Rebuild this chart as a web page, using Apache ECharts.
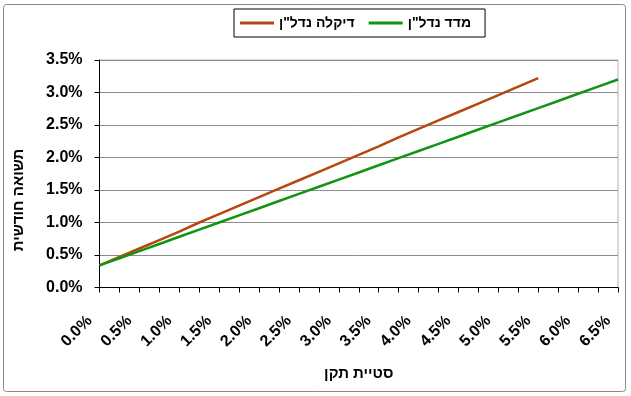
<!DOCTYPE html>
<html>
<head>
<meta charset="utf-8">
<script src="https://cdn.jsdelivr.net/npm/echarts@6/dist/echarts.min.js"></script>
<style>html,body{margin:0;padding:0;background:#fff;}#c{width:631px;height:396px;}</style>
</head>
<body>
<div id="c"></div>
<script>
// Standard deviation categories (%), step 0.25
const xCategories = [0, 0.25, 0.5, 0.75, 1.0, 1.25, 1.5, 1.75, 2.0, 2.25, 2.5, 2.75, 3.0, 3.25, 3.5, 3.75, 4.0, 4.25, 4.5, 4.75, 5.0, 5.25, 5.5, 5.75, 6.0, 6.25, 6.5];
// Monthly return (%) per series
const diklaValues = [0.34, 0.47, 0.60, 0.73, 0.86, 1.00, 1.13, 1.26, 1.39, 1.52, 1.65, 1.78, 1.91, 2.04, 2.17, 2.31, 2.44, 2.57, 2.70, 2.83, 2.96, 3.09, 3.22];
const madadValues = [0.34, 0.45, 0.56, 0.67, 0.78, 0.89, 1.00, 1.11, 1.22, 1.33, 1.44, 1.55, 1.66, 1.77, 1.88, 1.99, 2.10, 2.21, 2.32, 2.43, 2.54, 2.65, 2.76, 2.87, 2.98, 3.09, 3.20];
const seriesNames = ['דיקלה נדל"ן', 'מדד נדל"ן'];
const yTitle = 'תשואה חודשית';
const xTitle = 'סטיית תקן';

const FONT = 'Liberation Sans, Arial, sans-serif';
const chart = echarts.init(document.getElementById('c'), null, {renderer: 'canvas'});
chart.setOption({
  animation: false,
  backgroundColor: '#fff',
  textStyle: {fontFamily: FONT},
  graphic: [
    {type: 'rect', shape: {x: 3.5, y: 4.5, width: 622, height: 387, r: 3}, style: {fill: 'none', stroke: '#8a8a8a', lineWidth: 1}, silent: true},
    {type: 'text', x: 19, y: 200, rotation: Math.PI / 2, style: {text: yTitle, font: 'bold 15px ' + FONT, fill: '#000', align: 'center', verticalAlign: 'middle'}}
  ],
  legend: {
    left: 234, top: 9,
    orient: 'horizontal',
    data: seriesNames,
    borderColor: '#000', borderWidth: 1,
    padding: [7, 14, 7, 6],
    itemGap: 14,
    itemWidth: 34, itemHeight: 3,
    icon: 'rect',
    textStyle: {fontFamily: FONT, fontWeight: 'bold', fontSize: 14, color: '#000'}
  },
  grid: {left: 99.5, right: 13, top: 60, bottom: 108.5, show: true, borderColor: '#b4b4b4', borderWidth: 1, backgroundColor: 'transparent'},
  xAxis: {
    type: 'category',
    data: xCategories,
    boundaryGap: false,
    name: xTitle,
    nameLocation: 'middle',
    nameGap: 79,
    nameTextStyle: {fontFamily: FONT, fontWeight: 'bold', fontSize: 15, color: '#000'},
    axisLine: {lineStyle: {color: '#000', width: 1}},
    axisTick: {show: true, interval: 0, length: 5, inside: false, lineStyle: {color: '#000'}},
    axisLabel: {
      interval: 1, rotate: 45, margin: 21,
      fontFamily: FONT, fontWeight: 'bold', fontSize: 16, color: '#000',
      formatter: v => '{t|' + Number(v).toFixed(1) + '%}',
      rich: {t: {fontFamily: FONT, fontWeight: 'bold', fontSize: 16, color: '#000', padding: [0, 14, 0, 0]}}
    },
    splitLine: {show: false}
  },
  yAxis: {
    type: 'value',
    min: 0, max: 3.5, interval: 0.5,
    axisLine: {show: true, lineStyle: {color: '#000', width: 1}},
    axisTick: {show: true, length: 5, lineStyle: {color: '#000'}},
    axisLabel: {margin: 17, fontFamily: FONT, fontWeight: 'bold', fontSize: 16, color: '#000', formatter: v => v.toFixed(1) + '%'},
    splitLine: {show: true, lineStyle: {color: '#8c8c8c', width: 1}}
  },
  series: [
    {name: seriesNames[0], type: 'line', data: diklaValues, showSymbol: false, symbol: 'none', lineStyle: {color: '#B5470F', width: 2.5}, itemStyle: {color: '#B5470F'}, z: 3},
    {name: seriesNames[1], type: 'line', data: madadValues, showSymbol: false, symbol: 'none', lineStyle: {color: '#119411', width: 2.5}, itemStyle: {color: '#119411'}, z: 4}
  ]
});
</script>
</body>
</html>
